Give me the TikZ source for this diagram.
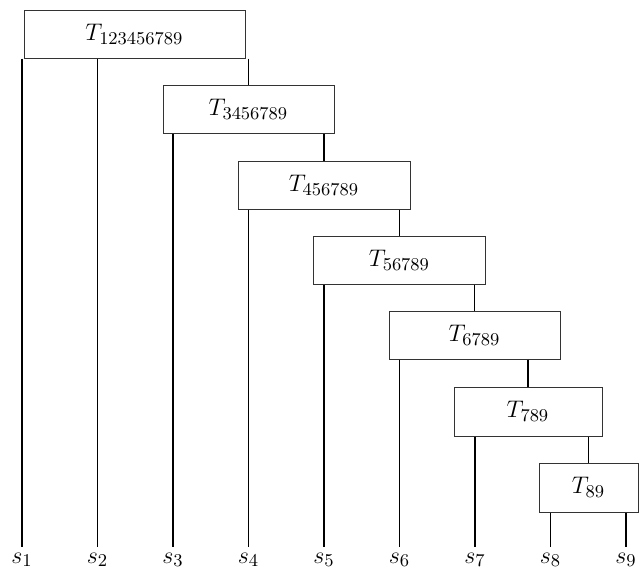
\documentclass[tikz,border=0pt]{standalone}
\begin{document}
\begin{tikzpicture}[x=0.5pt,y=-0.5pt,
  font=\fontsize{12.3}{14}\selectfont,
  box/.style={draw=black!80, line width=0.5pt, inner sep=0pt, minimum height=24pt},
  wire/.style={line width=0.9pt},
  lab/.style={anchor=base, inner xsep=0pt, inner ysep=2.6pt}]
\useasboundingbox (0,0) rectangle (641,569);
\foreach \i in {1,...,9}
  \node[lab] (s\i) at ({22+75.5*(\i-1)},563) {$s_{\i}$};
\node[box, minimum width=110.5pt] (B1) at (134.5,34) {$T_{123456789}$};
\node[box, minimum width=85.5pt] (B2) at (248.5,109) {$T_{3456789}$};
\node[box, minimum width=86pt] (B3) at (324,185) {$T_{456789}$};
\node[box, minimum width=86pt] (B4) at (399.5,260) {$T_{56789}$};
\node[box, minimum width=85.5pt] (B5) at (474.5,335) {$T_{6789}$};
\node[box, minimum width=74pt, minimum height=24.5pt] (B6) at (528,411.5) {$T_{789}$};
\node[box, minimum width=49.5pt, minimum height=24.5pt] (B7) at (588.5,487.5) {$T_{89}$};
\draw[wire] (B1.south -| s1) -- (s1.north);
\draw[wire] (B1.south -| s2) -- (s2.north);
\draw[wire] (B1.south -| B2.north) -- (B2.north);
\draw[wire] (B2.south -| s3) -- (s3.north);
\draw[wire] (B2.south -| B3.north) -- (B3.north);
\draw[wire] (B3.south -| s4) -- (s4.north);
\draw[wire] (B3.south -| B4.north) -- (B4.north);
\draw[wire] (B4.south -| s5) -- (s5.north);
\draw[wire] (B4.south -| B5.north) -- (B5.north);
\draw[wire] (B5.south -| s6) -- (s6.north);
\draw[wire] (B5.south -| B6.north) -- (B6.north);
\draw[wire] (B6.south -| s7) -- (s7.north);
\draw[wire] (B6.south -| B7.north) -- (B7.north);
\draw[wire] (B7.south -| s8) -- (s8.north);
\draw[wire] (B7.south -| s9) -- (s9.north);
\end{tikzpicture}
\end{document}
